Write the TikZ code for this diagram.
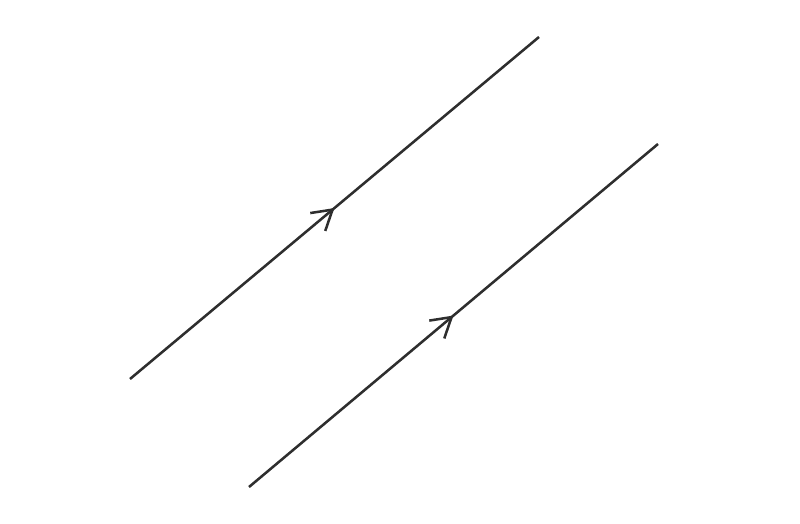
\documentclass[tikz,border=0pt]{standalone}
\usetikzlibrary{arrows.meta,decorations.markings}
\definecolor{ink}{HTML}{2E2E2E}
\tikzset{
  parline/.style={draw=ink, line width=1.9pt,
    postaction={decorate},
    decoration={markings, mark=at position 0.5 with {\arrow[ink, line width=1.9pt]{Straight Barb[length=14.5pt, width=17.5pt]}}}}
}
\begin{document}
\begin{tikzpicture}[x=0.75pt, y=-0.75pt]
\useasboundingbox (0,0) rectangle (800,524);
\coordinate (a1) at (130,379);
\coordinate (b1) at (539,37);
\coordinate (a2) at (249,487);
\coordinate (b2) at (658,144);
\path[parline] (a1) -- (b1);
\path[parline] (a2) -- (b2);
\end{tikzpicture}
\end{document}
